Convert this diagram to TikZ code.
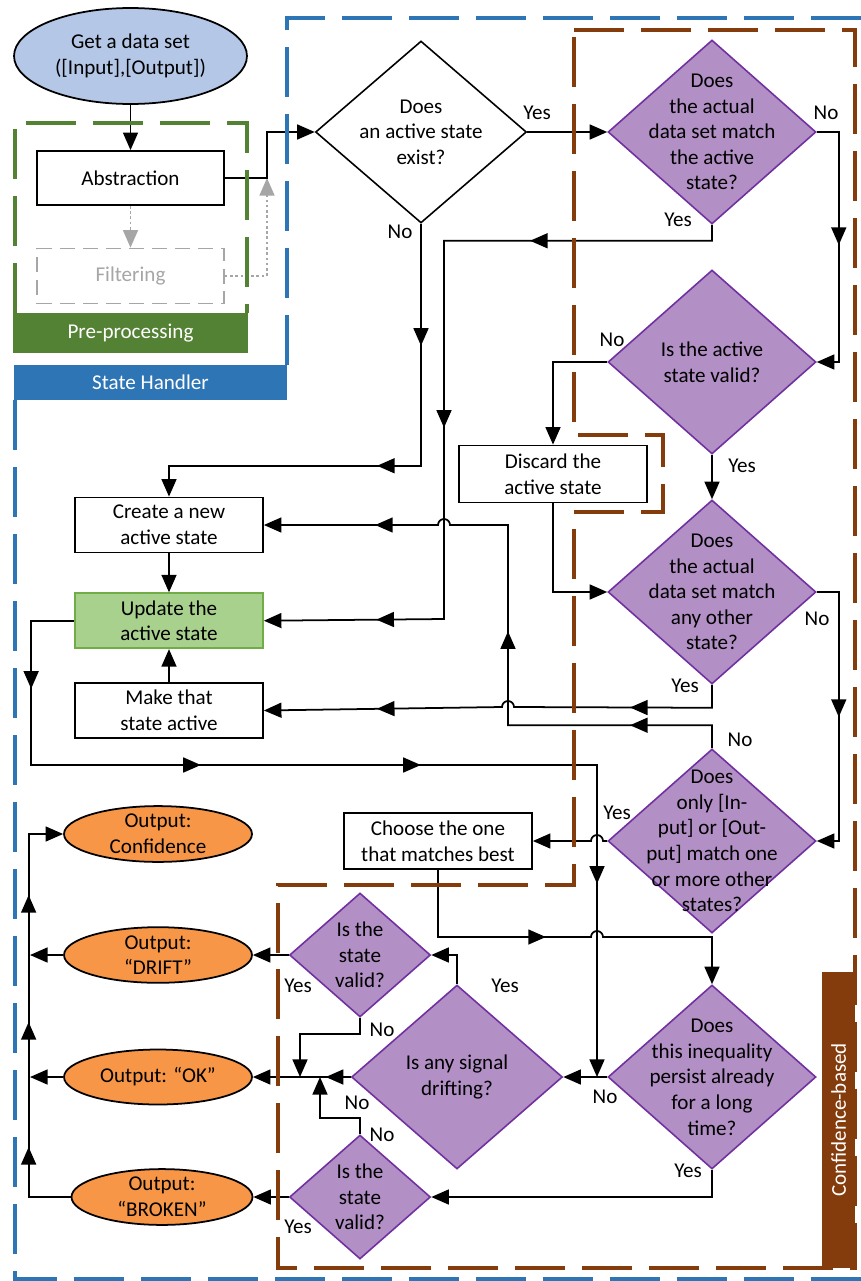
\documentclass[tikz,border=0pt]{standalone}
\usepackage{fontspec}
\setmainfont{Carlito}
\usepackage{tikz}
\usetikzlibrary{positioning,arrows.meta,shapes.geometric,decorations.markings}
\definecolor{HandlerBlue}{RGB}{46,117,182}
\definecolor{PreGreen}{RGB}{84,130,53}
\definecolor{ConfBrown}{RGB}{132,60,12}
\definecolor{StartBlue}{RGB}{180,199,231}
\definecolor{DecFill}{RGB}{178,143,197}
\definecolor{DecLine}{RGB}{112,48,160}
\definecolor{OutOrange}{RGB}{247,150,70}
\definecolor{UpdFill}{RGB}{169,209,142}
\definecolor{UpdLine}{RGB}{112,173,71}
\definecolor{FiltGray}{RGB}{166,166,166}

\begin{document}
\begin{tikzpicture}[
    x=0.02cm, y=-0.02cm,
    font=\fontsize{12}{14.6}\selectfont,
    box/.style={rectangle, draw=black, line width=1pt, fill=white,
        minimum width=3.76cm, minimum height=1.1cm, align=center, inner sep=1pt},
    dec/.style={diamond, draw=DecLine, fill=DecFill, line width=0.9pt,
        minimum width=4.16cm, minimum height=3.68cm, inner sep=0pt},
    smalldec/.style={dec, minimum width=2.82cm, minimum height=2.48cm},
    outell/.style={ellipse, draw=black, line width=1pt, fill=OutOrange,
        minimum width=3.76cm, minimum height=1.1cm, inner sep=0pt, align=center},
    band/.style={rectangle, inner sep=0pt, text=white},
    zone/.style={line width=2.2pt, dash pattern=on 1cm off 0.34cm},
    arrow/.style={-{Triangle[length=10pt,width=8.5pt]}, line width=1pt},
    garrow/.style={-{Triangle[length=10pt,width=8.5pt]}, FiltGray, line width=1pt, dash pattern=on 1.5pt off 1.5pt},
    midarr/.style={postaction={decorate, decoration={markings,
        mark=at position #1 with {\arrow{Triangle[length=10pt,width=8.5pt]}}}}},
    lbl/.style={inner sep=0pt}
]
\useasboundingbox (0,0) rectangle (860,1281);

% pre-processing
\node[ellipse, draw=black, line width=1pt, fill=StartBlue, minimum width=4.66cm, minimum height=1.92cm,
    align=center, inner sep=0pt] (start) at (130.5,56) {Get a data set\\([Input],[Output])};
\node[box, minimum width=3.74cm, minimum height=1.08cm] (abs) at (130.5,178) {Abstraction};
\node[box, draw=FiltGray, text=FiltGray, dash pattern=on 0.3cm off 0.16cm,
    minimum width=3.74cm] (filt) at (130.5,276) {Filtering};
\coordinate (fj) at (267,178);

% state handler
\node[dec, fill=white, draw=black, minimum width=4.22cm, minimum height=3.64cm,
    label={[align=center]center:{Does\\an active state\\exist?}}] (exist) at (421,132) {};
\node[dec, label={[align=center]center:{Does\\the actual\\data set match\\the active\\state?}}] (match) at (712,132) {};
\node[dec, label={[align=center]center:{Is the active\\state valid?}}] (valid) at (712,362) {};
\node[dec, label={[align=center]center:{Does\\the actual\\data set match\\any other\\state?}}] (other) at (712,592) {};
\node[dec, label={[align=center]center:{Does\\only [In-\\put] or [Out-\\put] match one\\or more other\\states?}}] (partial) at (712,841) {};
\node[box, minimum height=1.14cm] (discard) at (553,474) {Discard the\\active state};
\node[box, minimum height=1.12cm] (choose) at (438,841) {Choose the one\\that matches best};
\node[box] (create) at (169,525) {Create a new\\active state};
\node[box, fill=UpdFill, draw=UpdLine, below=0.78cm of create] (update) {Update the\\active state};
\node[box, below=0.66cm of update] (make) {Make that\\state active};
\coordinate (busA) at (444,619);
\coordinate (jt) at (597,765);
\coordinate (jn) at (597,1077);

% confidence-based
\node[dec, label={[align=center]center:{Does\\this inequality\\persist already\\for a long\\time?}}] (persist) at (712,1077) {};
\node[dec, minimum width=4.22cm, label={[align=center]center:{Is any signal\\drifting?}}] (drift) at (457,1077) {};
\node[smalldec, label={[align=center]center:{Is the\\state\\valid?}}] (validA) at (360,955) {};
\node[smalldec, label={[align=center]center:{Is the\\state\\valid?}}] (validB) at (360,1197) {};
\coordinate (okA) at (300,1077);
\coordinate (okB) at (320,1077);

% outputs
\node[outell] (oconf) at (158,834) {Output:\\Confidence};
\node[outell] (odrift) at (158,955) {Output:\\“DRIFT”};
\node[outell] (ook) at (158,1077) {Output: “OK”};
\node[outell, minimum width=3.62cm] (obroken) at (162,1197) {Output:\\“BROKEN”};
\coordinate (busD) at (30,955);
\coordinate (busK) at (30,1077);

\draw[arrow] (start) -- (abs);
\draw[garrow] (abs) -- (filt);
\draw[garrow] (filt.east) -| (fj);
\draw[arrow] (abs.east) -- (fj) |- (exist.west);

\draw[arrow] (exist.east) -- (match.west);
\draw[arrow, midarr=2.44cm, midarr=5.72cm] (exist.south) -- ++(0,242) -| (create.north);
\draw[arrow, midarr=2.7cm] (match.east) -- ++(22,0) |- (valid.east);
\draw[arrow, midarr=3.96cm, midarr=9.42cm, midarr=14.6cm] (match.south) -- ++(0,16) -| (busA) -- (update.east);
\draw[arrow] (valid.west) -| (discard.north);
\draw[arrow] (valid.south) -- (other.north);
\draw[arrow] (discard.south) |- (other.west);
\draw[arrow, midarr=2.94cm] (other.east) -- ++(22,0) |- (partial.east);
\draw[arrow, midarr=2.1cm, midarr=7.3cm] (other.south) -- ++(0,23) -- (514,707)
    arc[start angle=0, end angle=180, radius=0.12cm] -- (make.east);
\draw[arrow, midarr=2.1cm, midarr=6.42cm, midarr=11.34cm] (partial.north) -- ++(0,-23) -| (508,525) -- (450,525)
    arc[start angle=0, end angle=180, radius=0.12cm] -- (create.east);
\draw[arrow] (partial.west) -- (603,841) arc[start angle=0, end angle=180, radius=0.12cm] -- (choose.east);
\draw[arrow, midarr=3.5cm] (choose.south) -- (438,937) -- (591,937)
    arc[start angle=180, end angle=0, radius=0.12cm] -| (persist.north);
\draw[arrow] (create) -- (update);
\draw[arrow] (make) -- (update);
\draw[arrow, midarr=2.22cm, midarr=7.14cm, midarr=11.54cm, midarr=17.44cm] (update.west) -- ++(-43,0) |- (jt) -- (jn);

\draw[arrow] (persist.west) -- (drift.east);
\draw[arrow] (persist.south) |- (validB.east);
\draw[arrow] (drift.north) |- (validA.east);
\draw[arrow, midarr=0.5cm] (drift.west) -- (ook.east);
\draw[arrow] (validA.south) -- ++(0,16) -| (okA);
\draw[arrow] (validB.north) -- ++(0,-16) -| (okB);
\draw[arrow] (validA.west) -- (odrift.east);
\draw[arrow] (validB.west) -- (obroken.east);

\draw[arrow, midarr=1.84cm, midarr=4.34cm, midarr=6.88cm] (obroken.west) -- ++(-42,0) |- (oconf.west);
\draw[arrow] (odrift.west) -- (busD);
\draw[arrow] (ook.west) -- (busK);

% yes / no
\node[lbl] (yExist) at (537,113) {Yes};
\node[lbl] (nExist) at (400,232) {No};
\node[lbl] (nMatch) at (826,113) {No};
\node[lbl] (yMatch) at (678,220) {Yes};
\node[lbl] (nValid) at (612,340) {No};
\node[lbl] (yValid) at (742,466) {Yes};
\node[lbl] (nOther) at (817,619) {No};
\node[lbl] (yOther) at (685,686) {Yes};
\node[lbl] (nPartial) at (740,740) {No};
\node[lbl] (yPartial) at (617,813) {Yes};
\node[lbl] (nPersist) at (605,1097) {No};
\node[lbl] (yPersist) at (688,1171) {Yes};
\node[lbl] (yDrift) at (505,986) {Yes};
\node[lbl] (nDrift) at (357,1103) {No};
\node[lbl] (yValidA) at (298,986) {Yes};
\node[lbl] (nValidA) at (382,1030) {No};
\node[lbl] (nValidB) at (382,1135) {No};
\node[lbl] (yValidB) at (298,1227) {Yes};

% frames
\draw[zone, HandlerBlue] (287,365) -- (287,18) -- (866,18);
\draw[zone, HandlerBlue] (15,400) -- (15,1279) -- (866,1279);
\draw[zone, PreGreen] (15,313) -- (15,123) -- (247,123) -- (247,313);
\draw[zone, ConfBrown] (574,30) -- (855,30) -- (855,1268) -- (278,1268) -- (278,885) -- (574,885)
    -- (574,512) -- (663,512) -- (663,435) -- (574,435) -- cycle;
\node[band, fill=PreGreen, minimum width=4.7cm, minimum height=0.8cm] (preband) at (130.5,333) {Pre-processing};
\node[band, fill=HandlerBlue, minimum width=5.46cm, minimum height=0.7cm] (handband) at (150.5,382.5) {State Handler};
\node[band, fill=ConfBrown, minimum width=5.92cm, minimum height=0.66cm, rotate=90] (confband) at (838.5,1120) {Confidence-based};
\end{tikzpicture}
\end{document}
